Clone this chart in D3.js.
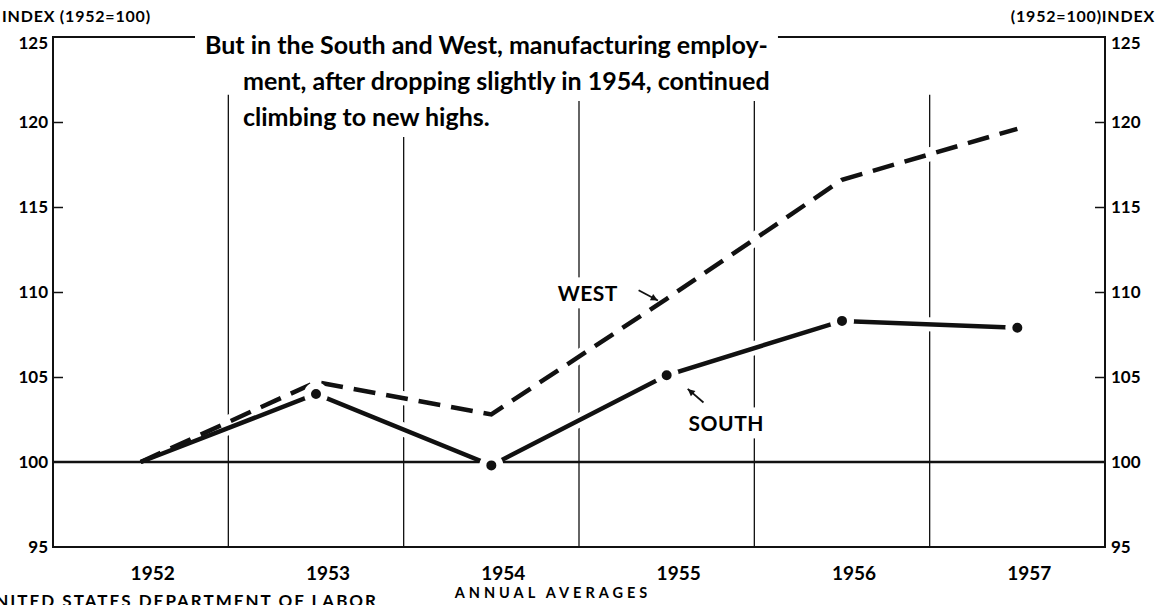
<!DOCTYPE html>
<html>
<head>
<meta charset="utf-8">
<script src="https://cdn.jsdelivr.net/npm/d3@7"></script>
<style>
  body { margin: 0; background: #fff; }
  svg { display: block; font-family: "Lato", "DejaVu Sans", sans-serif; font-weight: bold; }
</style>
</head>
<body>
<div id="chart"></div>
<script>
// Manufacturing employment index, annual averages (1952=100)
const years = [1952, 1953, 1954, 1955, 1956, 1957];
const westValues = [100, 104.7, 102.8, 109.6, 116.6, 119.6];
const southValues = [100, 104.0, 99.8, 105.1, 108.3, 107.9];
const southDotYears = [1953, 1954, 1955, 1956, 1957];
const yTicks = [95, 100, 105, 110, 115, 120, 125];
const gridYears = [1952.5, 1953.5, 1954.5, 1955.5, 1956.5];
const titleLines = [
    "But in the South and West, manufacturing employ-",
    "ment, after dropping slightly in 1954, continued",
    "climbing to new highs."
];

const width = 1157, height = 605;
const svg = d3.select("#chart").append("svg")
    .attr("width", width)
    .attr("height", height);

svg.append("rect").attr("width", width).attr("height", height).attr("fill", "#fff");

const x = d3.scaleLinear().domain([1951.5, 1957.5]).range([53, 1105]);
const y = d3.scaleLinear().domain([95, 125]).range([547, 37]);

// vertical year separators
svg.append("g")
    .selectAll("line")
    .data(gridYears)
    .join("line")
    .attr("x1", d => x(d)).attr("x2", d => x(d))
    .attr("y1", y(121.6)).attr("y2", y(95))
    .attr("stroke", "#111").attr("stroke-width", 1.3);

// frame
svg.append("path")
    .attr("d", `M${x(1951.5)},${y(125)}V${y(95)}H${x(1957.5)}V${y(125)}Z`)
    .attr("stroke", "#111").attr("stroke-width", 2).attr("fill", "none");

// inside ticks on both sides
const innerTicks = yTicks.filter(d => d > 95 && d < 125 && d !== 100);
svg.append("g").attr("transform", `translate(${x(1951.5)},0)`)
    .call(d3.axisRight(y).tickValues(innerTicks).tickSize(10).tickFormat(""))
    .call(g => g.select(".domain").remove())
    .selectAll("line").attr("stroke", "#111").attr("stroke-width", 1.5);
svg.append("g").attr("transform", `translate(${x(1957.5)},0)`)
    .call(d3.axisLeft(y).tickValues(innerTicks).tickSize(10).tickFormat(""))
    .call(g => g.select(".domain").remove())
    .selectAll("line").attr("stroke", "#111").attr("stroke-width", 1.5);

// tick labels
svg.append("g").selectAll("text")
    .data(yTicks)
    .join("text")
    .attr("x", x(1951.5) - 5)
    .attr("y", d => y(d) + (d === 125 ? 6 : 0))
    .attr("dy", "0.36em")
    .attr("text-anchor", "end")
    .attr("font-size", 17)
    .text(d => d);
svg.append("g").selectAll("text")
    .data(yTicks)
    .join("text")
    .attr("x", x(1957.5) + 6)
    .attr("y", d => y(d) + (d === 125 ? 6 : 0))
    .attr("dy", "0.36em")
    .attr("font-size", 17)
    .text(d => d);

svg.append("text").attr("x", 2).attr("y", 22).attr("font-size", 16)
    .attr("letter-spacing", 0.8).text("INDEX (1952=100)");
svg.append("text").attr("x", 1155).attr("y", 22).attr("font-size", 16)
    .attr("letter-spacing", 0.8).attr("text-anchor", "end").text("(1952=100)INDEX");

// title with white backing over frame and grid
const titleG = svg.append("g");
const titleText = titleG.selectAll("text")
    .data(titleLines)
    .join("text")
    .attr("x", (d, i) => i === 0 ? 205 : 243)
    .attr("y", (d, i) => 54 + i * 36)
    .attr("font-size", 25)
    .text(d => d);
titleText.each(function() {
    const b = this.getBBox();
    titleG.insert("rect", "text")
        .attr("x", b.x - 10).attr("y", b.y - 4)
        .attr("width", b.width + 20).attr("height", b.height + 10)
        .attr("fill", "#fff");
});

// data lines
const line = d3.line()
    .x((d, i) => x(years[i]))
    .y(d => y(d));

svg.append("path").datum(westValues).attr("d", line)
    .attr("fill", "none").attr("stroke", "#fff").attr("stroke-width", 14);
svg.append("path").datum(southValues).attr("d", line)
    .attr("fill", "none").attr("stroke", "#fff").attr("stroke-width", 14);

// 100 reference line
svg.append("line")
    .attr("x1", x(1951.5)).attr("x2", x(1957.5))
    .attr("y1", y(100)).attr("y2", y(100))
    .attr("stroke", "#111").attr("stroke-width", 2.5);

svg.append("path").datum(westValues).attr("d", line)
    .attr("fill", "none").attr("stroke", "#111").attr("stroke-width", 4.5)
    .attr("stroke-dasharray", "22,11");
svg.append("path").datum(southValues).attr("d", line)
    .attr("fill", "none").attr("stroke", "#111").attr("stroke-width", 4.5);

svg.append("g").selectAll("circle")
    .data(southDotYears)
    .join("circle")
    .attr("cx", d => x(d))
    .attr("cy", d => y(southValues[years.indexOf(d)]))
    .attr("r", 8.5)
    .attr("fill", "#111")
    .attr("stroke", "#fff")
    .attr("stroke-width", 7);

// series labels with arrows
function seriesLabel(text, yr, val, ax1, ay1, ax2, ay2) {
    const g = svg.append("g");
    const t = g.append("text")
        .attr("x", x(yr)).attr("y", y(val))
        .attr("text-anchor", "middle")
        .attr("font-size", 21)
        .attr("letter-spacing", 0.5)
        .text(text);
    const b = t.node().getBBox();
    g.insert("rect", "text")
        .attr("x", b.x - 4).attr("y", b.y - 3)
        .attr("width", b.width + 8).attr("height", b.height + 6)
        .attr("fill", "#fff");
    const x1 = x(ax1), y1 = y(ay1), x2 = x(ax2), y2 = y(ay2);
    g.append("line").attr("x1", x1).attr("y1", y1).attr("x2", x2).attr("y2", y2)
        .attr("stroke", "#111").attr("stroke-width", 1.8);
    const ang = Math.atan2(y2 - y1, x2 - x1);
    const L = 8, w = 0.45;
    g.append("path")
        .attr("d", `M${x2},${y2}L${x2 - L * Math.cos(ang - w)},${y2 - L * Math.sin(ang - w)}L${x2 - L * Math.cos(ang + w)},${y2 - L * Math.sin(ang + w)}Z`)
        .attr("fill", "#111");
}
seriesLabel("WEST", 1954.55, 109.45, 1954.84, 110.1, 1954.95, 109.5);
seriesLabel("SOUTH", 1955.34, 101.8, 1955.21, 103.5, 1955.12, 104.3);

// x labels
svg.append("g").selectAll("text")
    .data(years)
    .join("text")
    .attr("x", d => x(d) + 12)
    .attr("y", 580)
    .attr("text-anchor", "middle")
    .attr("font-size", 19)
    .text(d => d);

svg.append("text")
    .attr("x", 553).attr("y", 598)
    .attr("text-anchor", "middle")
    .attr("font-size", 14.5)
    .attr("letter-spacing", 4)
    .text("ANNUAL AVERAGES");

svg.append("text")
    .attr("x", 378).attr("y", 607)
    .attr("text-anchor", "end")
    .attr("font-size", 17)
    .attr("letter-spacing", 2)
    .text("UNITED STATES DEPARTMENT OF LABOR");
</script>
</body>
</html>
